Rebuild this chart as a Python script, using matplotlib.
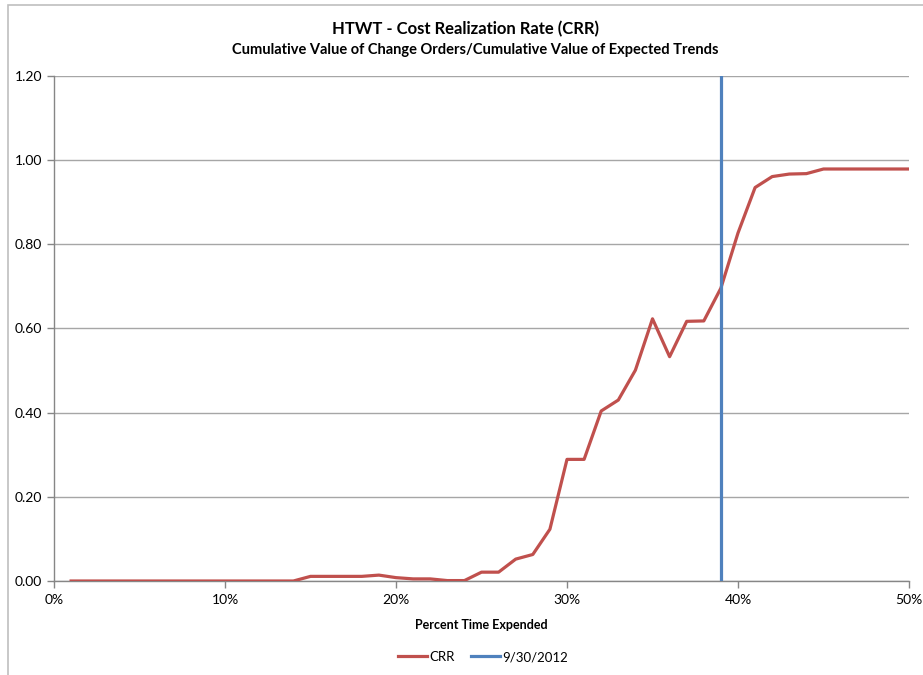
import numpy as np
import matplotlib.pyplot as plt
from matplotlib.patches import Rectangle
from matplotlib.ticker import FuncFormatter, MultipleLocator

plt.rcParams['font.family'] = ['Lato', 'DejaVu Sans']

# CRR by percent of time expended (1% .. 50%)
pct_time = np.arange(1, 51) / 100.0
crr = [0.0, 0.0, 0.0, 0.0, 0.0, 0.0, 0.0, 0.0, 0.0, 0.0,
       0.0, 0.0, 0.0, 0.0, 0.011, 0.011, 0.011, 0.011, 0.014, 0.008,
       0.005, 0.005, 0.001, 0.001, 0.021, 0.021, 0.052, 0.063, 0.123, 0.289,
       0.289, 0.404, 0.430, 0.501, 0.623, 0.533, 0.617, 0.618, 0.696, 0.827,
       0.935, 0.961, 0.967, 0.968, 0.979, 0.979, 0.979, 0.979, 0.979, 0.979]

# status date marker
status_x = [0.39, 0.39]
status_y = [0.0, 1.2]

red = '#C0504D'
blue = '#4F81BD'
grid_gray = '#A6A6A6'

fig = plt.figure(figsize=(9.23, 6.75), dpi=100)
ax = fig.add_axes([54 / 923, 94 / 675, 855 / 923, 505 / 675])

# chart area outline
fig.patches.append(Rectangle((8 / 923, -0.1), 1.1, 1.1 - 5 / 675,
                             transform=fig.transFigure, fill=False,
                             edgecolor='#BFBFBF', linewidth=1.2))

ax.plot(pct_time, crr, color=red, linewidth=2.3, label='CRR', zorder=3,
        solid_joinstyle='round')
ax.plot(status_x, status_y, color=blue, linewidth=2.3, label='9/30/2012', zorder=4)

ax.set_xlim(0, 0.5)
ax.set_ylim(0, 1.2)
ax.xaxis.set_major_locator(MultipleLocator(0.1))
ax.yaxis.set_major_locator(MultipleLocator(0.2))
ax.xaxis.set_major_formatter(FuncFormatter(lambda v, p: f'{v * 100:.0f}%'))
ax.yaxis.set_major_formatter(FuncFormatter(lambda v, p: f'{v:.2f}'))

ax.grid(axis='y', color=grid_gray, linewidth=1.0)
ax.set_axisbelow(True)
for side in ['top', 'right']:
    ax.spines[side].set_visible(False)
for side in ['left', 'bottom']:
    ax.spines[side].set_color('#868686')
    ax.spines[side].set_linewidth(1.0)
ax.tick_params(axis='both', colors='#868686', labelcolor='black', labelsize=10,
               length=5, width=1.0)
ax.tick_params(axis='x', pad=4)

ax.set_xlabel('Percent Time Expended', fontsize=9, fontweight='bold', labelpad=10)

fig.text(0.504, 1 - 29 / 675, 'HTWT - Cost Realization Rate (CRR)',
         ha='center', va='center', fontsize=12, fontweight='bold')
fig.text(0.515, 1 - 50 / 675,
         'Cumulative Value of Change Orders/Cumulative Value of Expected Trends',
         ha='center', va='center', fontsize=10.5, fontweight='bold')

fig.legend(loc='center', bbox_to_anchor=(483 / 923, 1 - 657 / 675), ncol=2,
           frameon=False, fontsize=9.5, handlelength=2.2, handletextpad=0.2,
           columnspacing=1.2)

fig.savefig('out.png', dpi=100)
